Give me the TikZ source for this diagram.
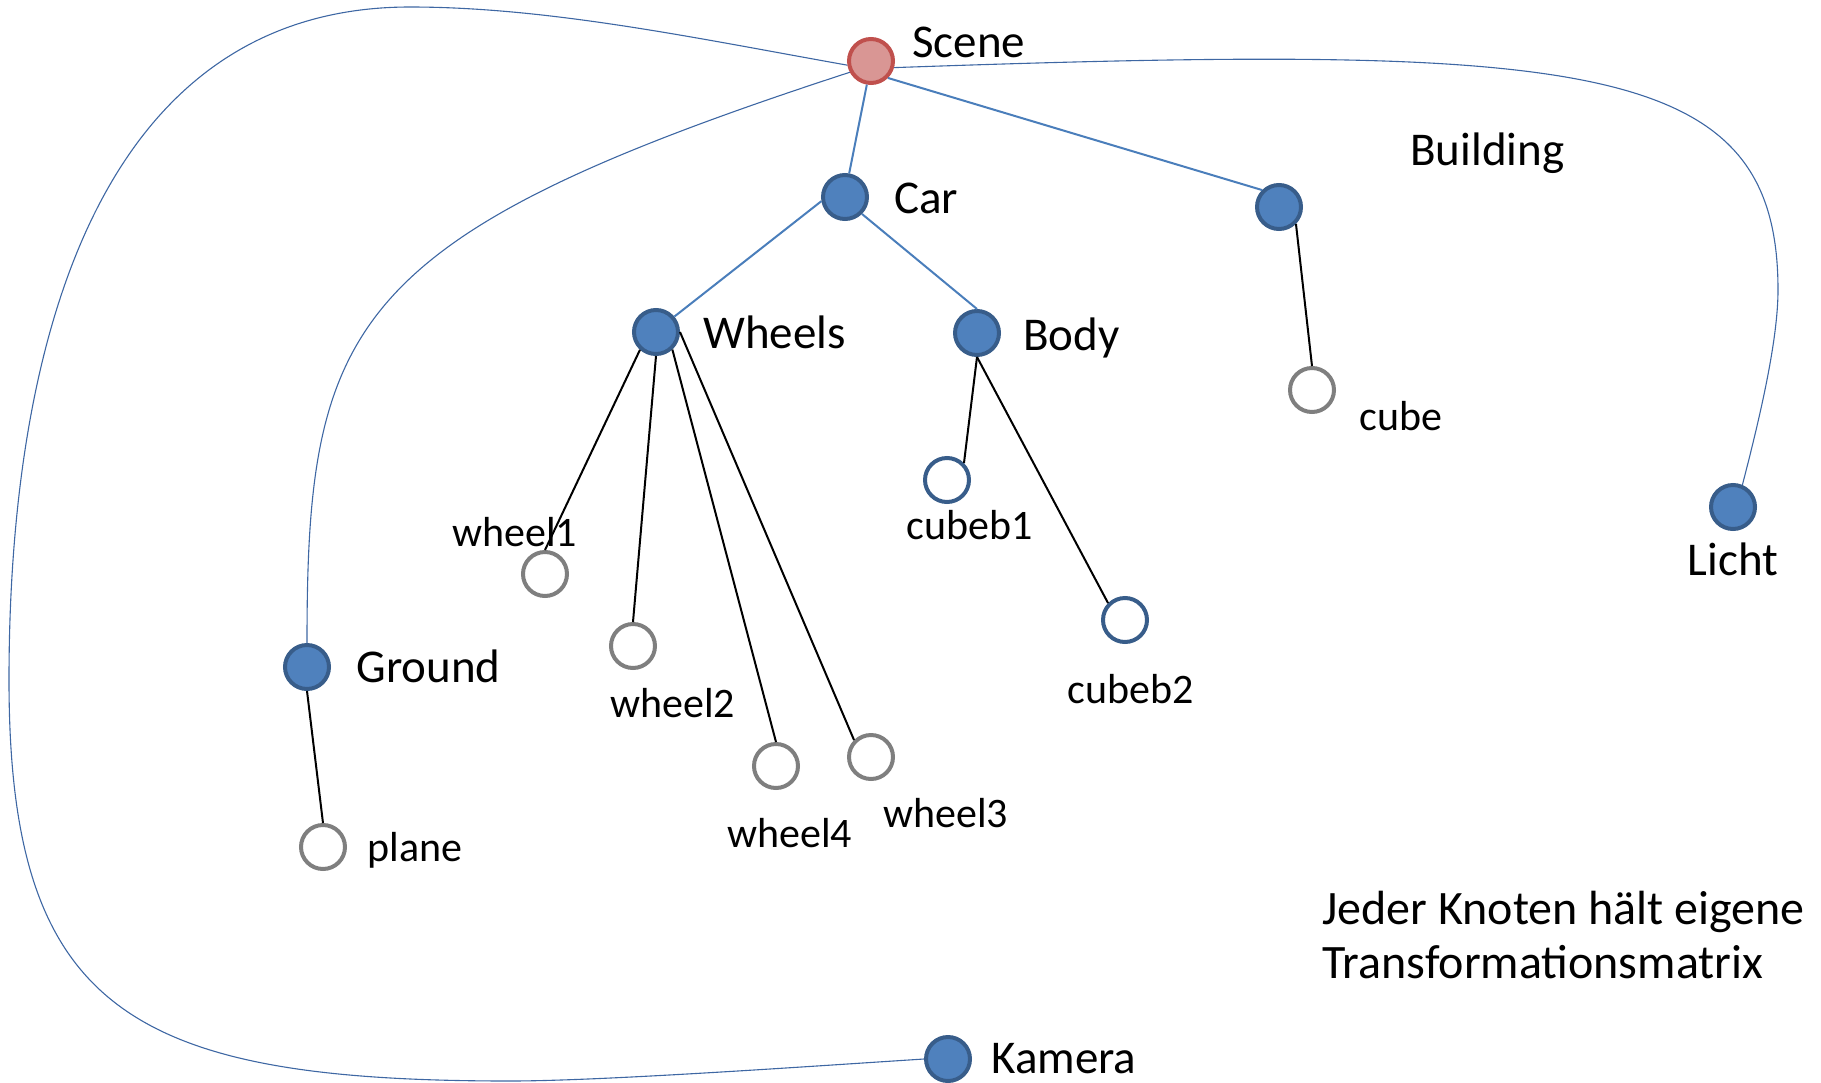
\documentclass[tikz,border=0pt]{standalone}
\usepackage{fontspec}
\setmainfont{Carlito}
\definecolor{nodefill}{HTML}{4F81BD}
\definecolor{nodeborder}{HTML}{385D8A}
\definecolor{scenefill}{HTML}{D99694}
\definecolor{sceneborder}{HTML}{C0504D}
\definecolor{ringgray}{HTML}{7F7F7F}
\definecolor{linkblue}{HTML}{4A7EBB}
\definecolor{thinblue}{HTML}{3E67A3}
\tikzset{
  basecirc/.style={circle, line width=2pt, minimum size=22pt, inner sep=0pt},
  bnode/.style={basecirc, draw=nodeborder, fill=nodefill},
  rnode/.style={basecirc, draw=sceneborder, fill=scenefill},
  gnode/.style={basecirc, draw=ringgray, fill=white},
  onode/.style={basecirc, draw=nodeborder, fill=white},
  biglbl/.style={font=\fontsize{23.5}{28}\selectfont, inner sep=0pt, anchor=base west},
  smalllbl/.style={font=\fontsize{21}{25}\selectfont, inner sep=0pt, anchor=base west},
  bluelink/.style={draw=linkblue, line width=1pt},
  blacklink/.style={draw=black, line width=1pt},
  thinlink/.style={draw=thinblue, line width=0.55pt},
}
\begin{document}
\begin{tikzpicture}[x=0.5pt, y=-0.5pt]
\useasboundingbox (0,0) rectangle (1821,1082);

% nodes
\node[rnode] (scene) at (871,61) {};
\node[bnode] (car) at (845,197) {};
\node[bnode] (building) at (1279,207) {};
\node[bnode] (wheels) at (656,332) {};
\node[bnode] (body) at (977,333) {};
\node[gnode] (cube) at (1312,390) {};
\node[onode] (cubeb1) at (947,480) {};
\node[onode] (cubeb2) at (1125,620) {};
\node[gnode] (wheel1) at (545,574) {};
\node[gnode] (wheel2) at (633,646) {};
\node[gnode] (wheel4) at (776,766) {};
\node[gnode] (wheel3) at (871,757) {};
\node[bnode] (ground) at (307,667) {};
\node[gnode] (plane) at (323,847) {};
\node[bnode] (licht) at (1733,507) {};
\node[bnode] (kamera) at (948,1059) {};

% labels
\node[biglbl] (lscene) at (912,57) {Scene};
\node[biglbl] (lcar) at (894,213) {Car};
\node[biglbl] (lwheels) at (703,348) {Wheels};
\node[biglbl] (lbody) at (1023,350) {Body};
\node[biglbl] (lbuilding) at (1410,165) {Building};
\node[smalllbl] (lcube) at (1359,430) {cube};
\node[biglbl, anchor=base] (llicht) at (1733,575) {Licht};
\node[smalllbl, anchor=base] (lcubeb1) at (970,539) {cubeb1};
\node[smalllbl] (lcubeb2) at (1067,703) {cubeb2};
\node[smalllbl] (lwheel1) at (452,546) {wheel1};
\node[smalllbl] (lwheel2) at (610,717) {wheel2};
\node[smalllbl] (lwheel4) at (727,847) {wheel4};
\node[smalllbl] (lwheel3) at (883,827) {wheel3};
\node[biglbl] (lground) at (356,682) {Ground};
\node[smalllbl] (lplane) at (367,861) {plane};
\node[biglbl] (lkamera) at (991,1073) {Kamera};
\node[biglbl, font=\fontsize{24}{28}\selectfont] (note1) at (1322,924) {Jeder Knoten hält eigene};
\node[biglbl, font=\fontsize{24}{28}\selectfont] (note2) at (1322,978) {Transformationsmatrix};

% blue tree links
\draw[bluelink] (scene.-100) -- (car.80);
\draw[bluelink] (scene.-45) -- (building.135);
\draw[bluelink] (car.190) -- (wheels.40);
\draw[bluelink] (car.-45) -- (body.north);

% black links
\draw[blacklink] (wheels.228) -- (wheel1.north);
\draw[blacklink] (wheels.south) -- (wheel2.north);
\draw[blacklink] (wheels.313) -- (wheel4.north);
\draw[blacklink] (wheels.east) -- (wheel3.135);
\draw[blacklink] (body.south) -- (cubeb1.45);
\draw[blacklink] (body.south) -- (cubeb2.135);
\draw[blacklink] (building.-45) -- (cube.north);
\draw[blacklink] (ground.south) -- (plane.north);

% thin curved links
\draw[thinlink] (scene.208) .. controls (347,236) and (307,323) .. (ground.north);
\draw[thinlink] (scene.-16) .. controls (1592,43) and (1778,60) .. (1778,290)
   .. controls (1778,340) and (1760,417) .. (licht.67);
\draw[thinlink] (scene.190) .. controls (700,39) and (550,7) .. (410,7)
   .. controls (110,7) and (9,320) .. (9,680)
   .. controls (9,1010) and (130,1081) .. (510,1081)
   .. controls (600,1081) and (800,1067) .. (kamera.west);
\end{tikzpicture}
\end{document}
